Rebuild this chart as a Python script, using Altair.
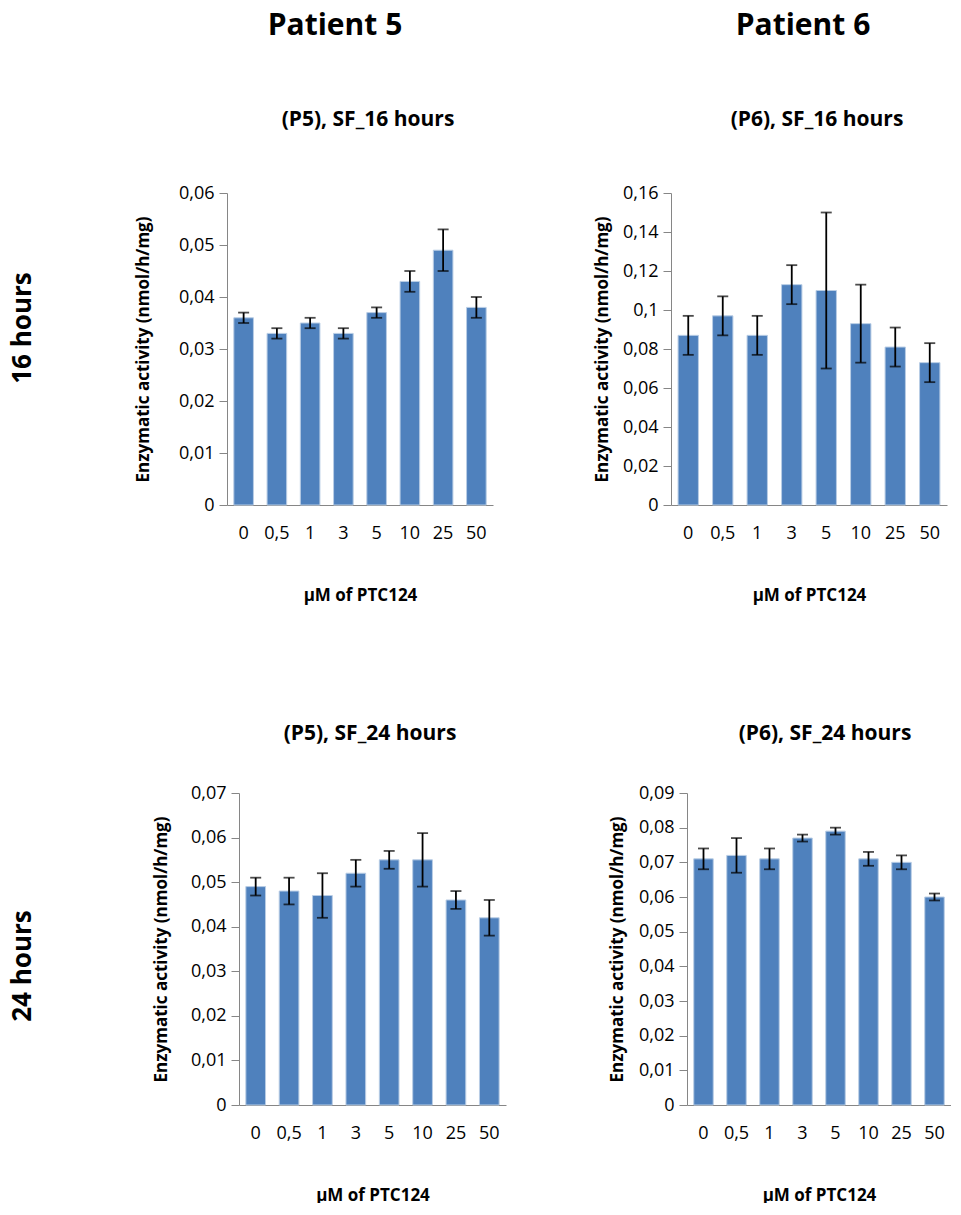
import altair as alt
import pandas as pd

# ---------------- data ----------------
doses = ["0", "0,5", "1", "3", "5", "10", "25", "50"]

p5_16 = [0.036, 0.033, 0.035, 0.033, 0.037, 0.043, 0.049, 0.038]
p5_16_err = [0.001, 0.001, 0.001, 0.001, 0.001, 0.002, 0.004, 0.002]
p5_16_ticks = [0, 0.01, 0.02, 0.03, 0.04, 0.05, 0.06]

p6_16 = [0.087, 0.097, 0.087, 0.113, 0.110, 0.093, 0.081, 0.073]
p6_16_err = [0.010, 0.010, 0.010, 0.010, 0.040, 0.020, 0.010, 0.010]
p6_16_ticks = [0, 0.02, 0.04, 0.06, 0.08, 0.1, 0.12, 0.14, 0.16]

p5_24 = [0.049, 0.048, 0.047, 0.052, 0.055, 0.055, 0.046, 0.042]
p5_24_err = [0.002, 0.003, 0.005, 0.003, 0.002, 0.006, 0.002, 0.004]
p5_24_ticks = [0, 0.01, 0.02, 0.03, 0.04, 0.05, 0.06, 0.07]

p6_24 = [0.071, 0.072, 0.071, 0.077, 0.079, 0.071, 0.070, 0.060]
p6_24_err = [0.003, 0.005, 0.003, 0.001, 0.001, 0.002, 0.002, 0.001]
p6_24_ticks = [0, 0.01, 0.02, 0.03, 0.04, 0.05, 0.06, 0.07, 0.08, 0.09]

panel_titles = ["(P5), SF_16 hours", "(P6), SF_16 hours", "(P5), SF_24 hours", "(P6), SF_24 hours"]
patient_titles = ["Patient 5", "Patient 6"]
row_titles = ["16 hours", "24 hours"]
x_title = "µM of PTC124"
y_title = "Enzymatic activity (nmol/h/mg)"

# ---------------- style ----------------
FONT = "Open Sans"
BLUE = "#4F81BD"
GREY = "#868686"
H = 312


def text_layer(txt, x, y, size, angle=0, baseline="alphabetic"):
    df = pd.DataFrame({"t": [txt]})
    kw = dict(font=FONT, fontSize=size, fontWeight="bold", color="black",
              align="center", baseline=baseline)
    if angle:
        kw["angle"] = angle
    return alt.Chart(df).mark_text(**kw).encode(
        x=alt.value(x), y=alt.value(y), text="t:N")


def panel(values, errs, yticks, width, ytitle_x, extras):
    df = pd.DataFrame({
        "dose": doses,
        "value": values,
        "lo": [v - e for v, e in zip(values, errs)],
        "hi": [v + e for v, e in zip(values, errs)],
    })
    base = alt.Chart(df)
    xscale = alt.Scale(paddingInner=0.41, paddingOuter=0.205)
    yscale = alt.Scale(domain=[0, yticks[-1]], nice=False, zero=True)
    xaxis = alt.Axis(title=x_title, labelAngle=0, ticks=False,
                     labelPadding=19, labelFontSize=18, labelFont=FONT,
                     labelColor="black", domainColor=GREY, domainWidth=1,
                     titleFont=FONT, titleFontSize=17, titleFontWeight="bold",
                     titleColor="black", titleY=82, titleBaseline="top",
                     titleAlign="center", titleX=width / 2)
    yaxis = alt.Axis(values=yticks, grid=False, title=y_title,
                     labelExpr="replace(format(datum.value, '.2~f'), '.', ',')",
                     tickSize=8, tickColor=GREY, domainColor=GREY,
                     labelPadding=5, labelFontSize=18, labelFont=FONT,
                     labelColor="black",
                     titleFont=FONT, titleFontSize=17, titleFontWeight="bold",
                     titleColor="black", titleAngle=270, titleAlign="center",
                     titleBaseline="middle", titleX=-ytitle_x, titleY=H / 2)
    x = alt.X("dose:N", sort=doses, scale=xscale, axis=xaxis, title=x_title)
    bars = base.mark_bar(color=BLUE, stroke="#B9CDE5", strokeWidth=1).encode(
        x=x, y=alt.Y("value:Q", scale=yscale, axis=yaxis, title=y_title))
    rules = base.mark_rule(color="black", strokeWidth=1.8).encode(
        x=x, y=alt.Y("lo:Q", scale=yscale, axis=yaxis, title=y_title), y2="hi:Q")
    cap_lo = base.mark_tick(color="black", size=11, thickness=1.8).encode(
        x=x, y=alt.Y("lo:Q", scale=yscale, axis=yaxis, title=y_title))
    cap_hi = base.mark_tick(color="black", size=11, thickness=1.8).encode(
        x=x, y=alt.Y("hi:Q", scale=yscale, axis=yaxis, title=y_title))
    layers = [bars, rules, cap_lo, cap_hi] + extras
    return alt.layer(*layers).properties(width=width, height=H)


def row_label(txt, width, y):
    return text_layer(txt, 13, y, 26, angle=270, baseline="middle").properties(
        width=width, height=H)


p1 = panel(p5_16, p5_16_err, p5_16_ticks, 266, 84,
           [text_layer(patient_titles[0], 108, -158, 30),
            text_layer(panel_titles[0], 141, -67, 21)])
p2 = panel(p6_16, p6_16_err, p6_16_ticks, 276, 69,
           [text_layer(patient_titles[1], 132, -158, 30),
            text_layer(panel_titles[1], 146, -67, 21)])
p3 = panel(p5_24, p5_24_err, p5_24_ticks, 267, 78,
           [text_layer(panel_titles[2], 131, -53, 21)])
p4 = panel(p6_24, p6_24_err, p6_24_ticks, 264, 70,
           [text_layer(panel_titles[3], 138, -53, 21)])

row1 = alt.hconcat(row_label(row_titles[0], 39, 135), p1, p2, spacing=178, bounds="flush")
row2 = alt.hconcat(row_label(row_titles[1], 48, 173), p3, p4, spacing=181, bounds="flush")

chart = alt.vconcat(row1, row2, spacing=120).properties(
    padding={"left": 1, "top": 3, "right": 0, "bottom": 0}
).configure_view(stroke=None)

chart.save("out.html", embed_options={"renderer": "svg", "actions": False})
